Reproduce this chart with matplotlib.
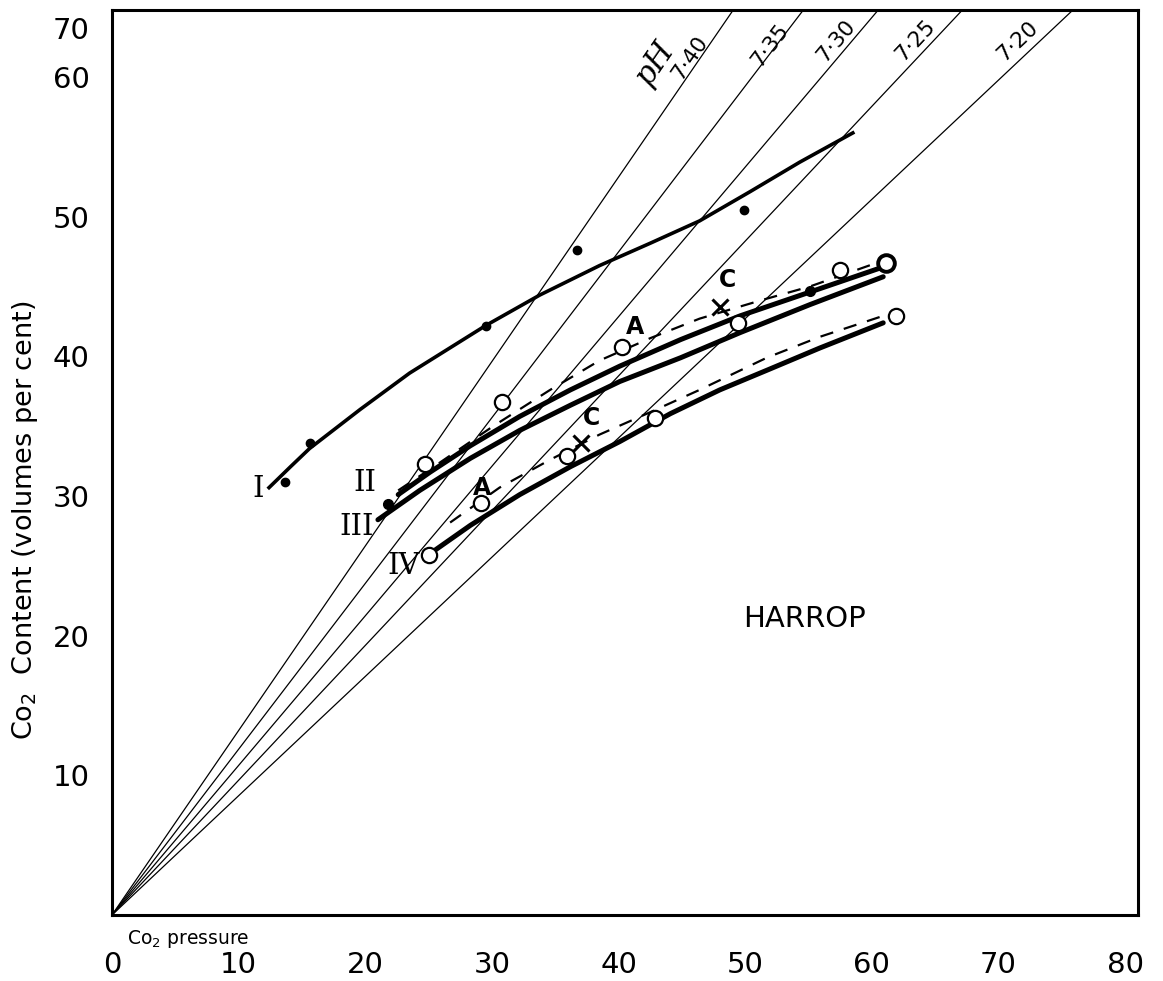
import numpy as np
import matplotlib
matplotlib.rcParams['font.family'] = 'DejaVu Sans'
import matplotlib.pyplot as plt
plt.switch_backend('agg')

# pH isopleths: slope of CO2 content vs CO2 pressure
ph_labels = ['7·40', '7·35', '7·30', '7·25', '7·20']
ph_slopes = [1.321, 1.187, 1.071, 0.965, 0.854]
ph_label_x = [45.6, 52.0, 57.2, 63.4, 71.5]
ph_label_y = [61.4, 62.3, 62.6, 62.6, 62.6]

# curve I (filled dots)
c1_x = [12.4, 14.1, 15.6, 19.6, 23.5, 29.5, 33.8, 38.5, 42.5, 46.4, 50.4, 54.3, 58.5]
c1_y = [30.6, 32.1, 33.4, 36.2, 38.8, 42.2, 44.4, 46.5, 48.1, 49.7, 51.8, 53.9, 56.0]
c1_pts_x = [13.7, 15.6, 29.5, 36.7, 49.9]
c1_pts_y = [31.0, 33.8, 42.2, 47.6, 50.5]

# curves II / III (upper pair)
c2_x = [22.6, 25.1, 28.3, 32.2, 36.2, 40.1, 44.9, 49.6, 55.1, 60.9]
c2_y = [30.1, 31.7, 33.6, 35.7, 37.6, 39.3, 41.2, 42.9, 44.6, 46.4]
c2d_x = [22.6, 25.9, 30.1, 34.6, 38.5, 42.5, 46.4, 51.2, 55.1, 60.4]
c2d_y = [30.4, 32.4, 35.0, 37.6, 39.7, 41.3, 42.7, 44.0, 45.0, 46.7]
c3_x = [21.0, 24.3, 28.3, 32.2, 36.2, 40.1, 44.9, 49.6, 55.1, 60.9]
c3_y = [28.3, 30.4, 32.7, 34.7, 36.5, 38.2, 39.9, 41.7, 43.7, 45.7]
up_open_x = [24.7, 30.8, 40.3, 49.4, 57.5]
up_open_y = [32.3, 36.7, 40.7, 42.4, 46.2]
up_fill_x = [21.8, 55.1]
up_fill_y = [29.4, 44.7]
up_bold_x = [61.1]
up_bold_y = [46.7]
up_cross = (48.0, 43.5)

# curve IV (lower pair)
c4_x = [25.0, 28.3, 32.2, 36.2, 40.1, 44.1, 48.0, 51.7, 55.9, 60.9]
c4_y = [25.8, 27.9, 30.1, 32.1, 33.9, 35.9, 37.6, 39.0, 40.6, 42.4]
c4d_x = [26.7, 30.6, 34.6, 38.5, 42.5, 46.4, 51.7, 55.9, 60.9]
c4d_y = [28.1, 30.6, 32.6, 34.4, 36.0, 37.6, 39.9, 41.4, 42.9]
lo_open_x = [25.0, 29.1, 35.9, 42.9, 61.9]
lo_open_y = [25.8, 29.5, 32.9, 35.6, 42.9]
lo_cross = (37.0, 33.8)

x_ticks = [0, 10, 20, 30, 40, 50, 60, 70, 80]
y_ticks = [10, 20, 30, 40, 50, 60, 63.5]
y_tick_labels = ['10', '20', '30', '40', '50', '60', '70']

fig = plt.figure(figsize=(11.63, 9.81), dpi=100)
ax = fig.add_axes([0.0963, 0.0673, 0.882, 0.9225])
ax.set_xlim(0, 81)
ax.set_ylim(0, 64.8)

xx = np.array([0, 81])
for lab, s, lx, ly in zip(ph_labels, ph_slopes, ph_label_x, ph_label_y):
    ax.plot(xx, s * xx, color='black', linewidth=0.9)
    ang = np.degrees(np.arctan(s))
    ax.text(lx, ly, lab, fontsize=15.5, rotation=ang, transform_rotates_text=True,
            rotation_mode='anchor', ha='center', va='center')
ax.text(42.9, 61.0, 'pH', fontsize=22, family='DejaVu Serif', style='italic',
        rotation=np.degrees(np.arctan(ph_slopes[0])), transform_rotates_text=True,
        rotation_mode='anchor', ha='center', va='center')

# curve I
ax.plot(c1_x, c1_y, color='black', linewidth=2.6, solid_joinstyle='round')
ax.plot(c1_pts_x, c1_pts_y, 'o', color='black', markersize=6)

# curves II, III
ax.plot(c2_x, c2_y, color='black', linewidth=3.6, solid_capstyle='round', solid_joinstyle='round')
ax.plot(c3_x, c3_y, color='black', linewidth=3.6, solid_capstyle='round', solid_joinstyle='round')
ax.plot(c2d_x, c2d_y, color='black', linewidth=1.6, dashes=(6, 5))
ax.plot(up_open_x, up_open_y, 'o', mfc='white', mec='black', mew=1.6, markersize=11)
ax.plot(up_bold_x, up_bold_y, 'o', mfc='white', mec='black', mew=2.8, markersize=12)
ax.plot(up_fill_x, up_fill_y, 'o', color='black', markersize=7)
ax.plot(*up_cross, 'x', color='black', mew=2.2, markersize=11)

# curve IV
ax.plot(c4_x, c4_y, color='black', linewidth=3.6, solid_capstyle='round', solid_joinstyle='round')
ax.plot(c4d_x, c4d_y, color='black', linewidth=1.6, dashes=(6, 5))
ax.plot(lo_open_x, lo_open_y, 'o', mfc='white', mec='black', mew=1.6, markersize=11)
ax.plot(*lo_cross, 'x', color='black', mew=2.2, markersize=11)

# letters
for (tx, ty, t) in [(41.3, 42.1, 'A'), (48.6, 45.5, 'C'), (29.2, 30.6, 'A'), (37.9, 35.6, 'C')]:
    ax.text(tx, ty, t, fontsize=17, fontweight='bold', ha='center', va='center')
for (tx, ty, t) in [(11.5, 30.5, 'I'), (20.0, 30.9, 'II'), (19.3, 27.8, 'III'), (23.0, 25.0, 'IV')]:
    ax.text(tx, ty, t, fontsize=21, family='DejaVu Serif', ha='center', va='center')

ax.text(54.7, 21.2, 'HARROP', fontsize=21, ha='center', va='center')
ax.text(1.2, -0.9, r'Co$_2$ pressure', fontsize=13.5, ha='left', va='top')

ax.set_xticks(x_ticks)
ax.set_yticks(y_ticks)
ax.set_yticklabels(y_tick_labels)
ax.tick_params(length=0, labelsize=21)
ax.tick_params(axis='x', pad=26)
ax.tick_params(axis='y', pad=16)
ax.set_ylabel(r'Co$_2$  Content (volumes per cent)', fontsize=19.5)
ax.yaxis.set_label_coords(-0.070, 0.436)
for sp in ax.spines.values():
    sp.set_linewidth(2.2)

plt.savefig('out.png', dpi=100)
plt.close()
